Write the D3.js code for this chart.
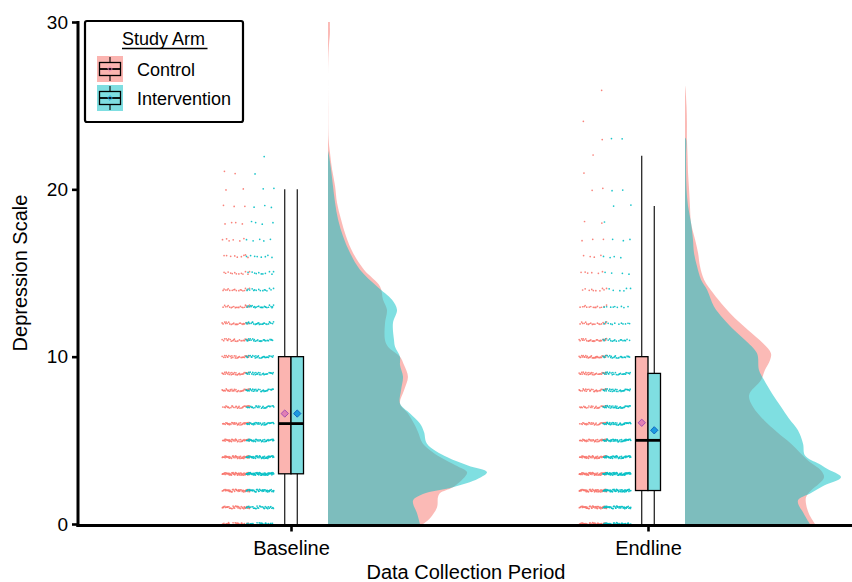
<!DOCTYPE html>
<html>
<head>
<meta charset="utf-8">
<script src="https://cdn.jsdelivr.net/npm/d3@7"></script>
<style>
	body { margin: 0; background: #fff; }
	text { font-family: "Liberation Sans", Arial, sans-serif; fill: #000; }
</style>
</head>
<body>
<script>
var periods = ['Baseline', 'Endline']
var arms = ['Control', 'Intervention']
var yTicks = [0, 10, 20, 30]

// number of respondents at each integer score, index = score
var ptsBaseCtrl = [36, 40, 44, 55, 46, 40, 38, 30, 33, 33, 30, 24, 24, 22, 18, 13, 9, 6, 4, 3, 2, 2]
var ptsBaseInt = [34, 32, 42, 62, 48, 40, 38, 30, 32, 31, 30, 27, 28, 26, 16, 11, 8, 5, 4, 3, 2, 1, 1]
var ptsEndCtrl = [48, 46, 50, 54, 44, 38, 32, 27, 29, 33, 35, 27, 20, 15, 10, 6, 4, 3, 2, 0, 2, 1, 1, 1, 1, 0, 1]
var ptsEndInt = [46, 44, 52, 62, 46, 45, 42, 36, 32, 28, 26, 18, 12, 9, 6, 4, 4, 3, 1, 2, 2, 0, 0, 2]

// density curves (score, density)
var densBaseCtrlY = [0, 0.35, 1, 1.6, 1.85, 2.2, 2.7, 3.1, 3.5, 4, 4.8, 5.5, 6, 6.6, 7.2, 8, 8.8, 9.5, 10, 10.6, 11, 12, 12.8, 13.4, 14.2, 15.2, 16.2, 17.2, 18.2, 19.2, 20.2, 21.2, 22.2, 23, 25, 27.5, 28.7, 29.3, 30]
var densBaseCtrl = [0.0633, 0.068, 0.0727, 0.0733, 0.0747, 0.0833, 0.09, 0.0927, 0.0853, 0.0747, 0.0633, 0.06, 0.0573, 0.0533, 0.048, 0.0507, 0.0533, 0.0507, 0.048, 0.04, 0.038, 0.038, 0.0393, 0.0367, 0.0347, 0.024, 0.0167, 0.012, 0.0087, 0.006, 0.0047, 0.0027, 0.0013, 0.0004, 0.0001, 0.0001, 0.0007, 0.0013, 0.0013]
var densBaseIntY = [0, 0.65, 1.4, 1.8, 2.2, 2.7, 3.1, 3.5, 4, 4.8, 5.5, 6, 6.6, 7.2, 8, 8.8, 9.5, 10, 10.6, 11, 12, 12.8, 13.4, 14.2, 15.2, 16.2, 17.2, 18.2, 19.2, 20.2, 21.2, 22, 22.3]
var densBaseInt = [0.0613, 0.0593, 0.0567, 0.0633, 0.0833, 0.1, 0.106, 0.0933, 0.0793, 0.066, 0.064, 0.0613, 0.0547, 0.048, 0.0487, 0.05, 0.048, 0.048, 0.0447, 0.044, 0.0433, 0.046, 0.0427, 0.0327, 0.0213, 0.0147, 0.01, 0.0067, 0.0047, 0.0033, 0.002, 0.0007, 0]
var densEndCtrlY = [0, 0.6, 1.2, 1.6, 2, 2.4, 2.8, 3.2, 3.8, 4.8, 5.5, 6.2, 7, 7.7, 8.6, 9.2, 9.8, 10.2, 10.8, 11.6, 12.3, 13, 13.8, 14.6, 15.4, 16.2, 17, 18, 19, 20, 21, 22, 23, 24, 25, 26, 26.2]
var densEndCtrl = [0.0867, 0.0827, 0.0807, 0.0807, 0.084, 0.0893, 0.0927, 0.0907, 0.082, 0.0707, 0.0613, 0.0527, 0.0453, 0.0427, 0.0507, 0.0533, 0.0567, 0.0573, 0.052, 0.042, 0.0333, 0.026, 0.0187, 0.0127, 0.01, 0.0087, 0.0067, 0.004, 0.0033, 0.0027, 0.002, 0.0017, 0.0013, 0.0013, 0.001, 0.0003, 0]
var densEndIntY = [0, 0.6, 1.4, 1.85, 2.3, 2.8, 3.3, 3.6, 4.1, 4.8, 5.6, 6.3, 7, 7.8, 8.6, 9.2, 10.2, 11, 11.6, 12.3, 13, 14, 14.6, 15.4, 16.2, 17, 18, 19, 20, 21, 22, 23, 23.1]
var densEndInt = [0.0833, 0.0793, 0.0753, 0.084, 0.0927, 0.104, 0.0947, 0.0893, 0.08, 0.0787, 0.0753, 0.0693, 0.064, 0.058, 0.0527, 0.0493, 0.048, 0.04, 0.0327, 0.0253, 0.0193, 0.0147, 0.0107, 0.008, 0.006, 0.0053, 0.004, 0.002, 0.001, 0.0007, 0.0007, 0.0007, 0]

// box plot stats: [lower whisker, q1, median, q3, upper whisker, mean]
var boxBaseCtrl = [0, 3, 6, 10, 20, 6.6]
var boxBaseInt = [0, 3, 6, 10, 20, 6.6]
var boxEndCtrl = [0, 2, 5, 10, 22, 6.05]
var boxEndInt = [0, 2, 5, 9, 19, 5.6]

var groups = [
	{period: 'Baseline', arm: 'Control', pts: ptsBaseCtrl, dy: densBaseCtrlY, d: densBaseCtrl, box: boxBaseCtrl},
	{period: 'Baseline', arm: 'Intervention', pts: ptsBaseInt, dy: densBaseIntY, d: densBaseInt, box: boxBaseInt},
	{period: 'Endline', arm: 'Control', pts: ptsEndCtrl, dy: densEndCtrlY, d: densEndCtrl, box: boxEndCtrl},
	{period: 'Endline', arm: 'Intervention', pts: ptsEndInt, dy: densEndIntY, d: densEndInt, box: boxEndInt}
]

var width = 852, height = 582

var color = d3.scaleOrdinal().domain(arms).range(['#F8766D', '#00BFC4'])
var boxFill = d3.scaleOrdinal().domain(arms).range(['#FBB4B0', '#7FDEE1'])
var meanFill = d3.scaleOrdinal().domain(arms).range(['#E27FB4', '#1A9BDF'])
var meanStroke = d3.scaleOrdinal().domain(arms).range(['#A44FB0', '#1466C2'])

var x = d3.scalePoint().domain(periods).range([291, 648])
var y = d3.scaleLinear().domain([0, 30]).range([524, 22])
var dens = d3.scaleLinear().domain([0, 0.1]).range([0, 150])

// offsets inside each period
var ptsOffset = d3.scaleOrdinal().domain(arms).range([-55, -31])
var boxOffset = d3.scaleOrdinal().domain(arms).range([-12.5, 0])
var boxW = 12.5
var jitterW = 14
var densOffset = 37

var svg = d3.select('body').append('svg')
	.attr('width', width)
	.attr('height', height)

// half violins
var area = d3.area()
	.curve(d3.curveCatmullRom)
	.y(d => y(d[0]))
	.x0(d => d[2])
	.x1(d => d[2] + dens(d[1]))

svg.append('g').selectAll('path')
	.data(groups)
	.enter()
	.append('path')
		.attr('d', g => area(g.dy.map((v, i) => [v, g.d[i], x(g.period) + densOffset])))
		.attr('fill', g => color(g.arm))
		.attr('fill-opacity', 0.5)

// jittered points, spread with a fixed sequence so the picture is stable
var phi = 0.6180339887
groups.forEach(function (g, gi) {
	var dots = []
	g.pts.forEach(function (n, v) {
		for (var i = 0; i < n; i++) {
			var k = i + 1 + v * 7 + gi * 3
			var fx = (k * phi) % 1
			var fy = (k * k * 0.7548776662) % 1
			dots.push({
				x: x(g.period) + ptsOffset(g.arm) + (fx * 2 - 1) * jitterW,
				y: y(v) + (fy * 2 - 1) * 1.4
			})
		}
	})
	svg.append('g').selectAll('circle')
		.data(dots)
		.enter()
		.append('circle')
			.attr('cx', d => d.x)
			.attr('cy', d => d.y)
			.attr('r', 0.85)
			.attr('fill', color(g.arm))
			.attr('opacity', 0.9)
})

// box plots
var boxes = svg.append('g').selectAll('g')
	.data(groups)
	.enter()
	.append('g')
		.attr('transform', g => 'translate(' + (x(g.period) + boxOffset(g.arm)) + ',0)')

boxes.append('line')
	.attr('x1', boxW / 2).attr('x2', boxW / 2)
	.attr('y1', g => y(g.box[0])).attr('y2', g => y(g.box[1]))
	.attr('stroke', '#000').attr('stroke-width', 1.1)
boxes.append('line')
	.attr('x1', boxW / 2).attr('x2', boxW / 2)
	.attr('y1', g => y(g.box[3])).attr('y2', g => y(g.box[4]))
	.attr('stroke', '#000').attr('stroke-width', 1.1)
boxes.append('rect')
	.attr('x', 0)
	.attr('width', boxW)
	.attr('y', g => y(g.box[3]))
	.attr('height', g => y(g.box[1]) - y(g.box[3]))
	.attr('fill', g => boxFill(g.arm))
	.attr('stroke', '#000')
	.attr('stroke-width', 1.3)
boxes.append('line')
	.attr('x1', 0).attr('x2', boxW)
	.attr('y1', g => y(g.box[2])).attr('y2', g => y(g.box[2]))
	.attr('stroke', '#000').attr('stroke-width', 2.8)
boxes.append('path')
	.attr('d', d3.symbol().type(d3.symbolDiamond2).size(34))
	.attr('transform', g => 'translate(' + boxW / 2 + ',' + y(g.box[5]) + ')')
	.attr('fill', g => meanFill(g.arm))
	.attr('stroke', g => meanStroke(g.arm))
	.attr('stroke-width', 1)

// axes
var yAxis = svg.append('g')
	.attr('transform', 'translate(78,0)')
	.call(d3.axisLeft(y).tickValues(yTicks).tickSize(6).tickPadding(4))
yAxis.select('.domain').remove()
yAxis.append('line')
	.attr('x1', 0).attr('x2', 0)
	.attr('y1', y(30) - 1).attr('y2', y(0) + 3)
	.attr('stroke', '#000').attr('stroke-width', 3)
yAxis.selectAll('.tick line').attr('stroke', '#000').attr('stroke-width', 2.6)
yAxis.selectAll('.tick text')
	.attr('font-size', 19)
	.attr('font-family', '"Liberation Sans", Arial, sans-serif')
	.attr('fill', '#000')

var xAxis = svg.append('g')
	.attr('transform', 'translate(0,' + (y(0) + 1.5) + ')')
	.call(d3.axisBottom(x).tickSize(6).tickPadding(9))
xAxis.select('.domain').remove()
xAxis.append('line')
	.attr('x1', 76.5).attr('x2', width)
	.attr('stroke', '#000').attr('stroke-width', 3)
xAxis.selectAll('.tick line').attr('stroke', '#000').attr('stroke-width', 2.6)
xAxis.selectAll('.tick text')
	.attr('font-size', 20)
	.attr('font-family', '"Liberation Sans", Arial, sans-serif')
	.attr('fill', '#000')

svg.append('text')
	.attr('x', 466)
	.attr('y', 579)
	.attr('text-anchor', 'middle')
	.attr('font-size', 20)
	.text('Data Collection Period')

svg.append('text')
	.attr('transform', 'translate(27,273) rotate(-90)')
	.attr('text-anchor', 'middle')
	.attr('font-size', 20)
	.text('Depression Scale')

// LEGEND
var legend = svg.append('g')
legend.append('rect')
	.attr('x', 85).attr('y', 21)
	.attr('width', 158).attr('height', 101)
	.attr('rx', 2)
	.attr('fill', '#fff')
	.attr('stroke', '#000')
	.attr('stroke-width', 2.2)
legend.append('text')
	.attr('x', 122).attr('y', 45)
	.attr('font-size', 18)
	.text('Study Arm')
legend.append('line')
	.attr('x1', 122).attr('x2', 207.5)
	.attr('y1', 48.5).attr('y2', 48.5)
	.attr('stroke', '#000').attr('stroke-width', 1.3)

var keys = legend.selectAll('g.key')
	.data(arms)
	.enter()
	.append('g')
		.attr('class', 'key')
		.attr('transform', (d, i) => 'translate(97,' + (56 + i * 29) + ')')

keys.append('rect')
	.attr('width', 26).attr('height', 26)
	.attr('fill', d => boxFill(d))
keys.append('line')
	.attr('x1', 13).attr('x2', 13).attr('y1', 1).attr('y2', 25)
	.attr('stroke', '#000').attr('stroke-width', 1.1)
keys.append('rect')
	.attr('x', 2.5).attr('y', 6.5)
	.attr('width', 21).attr('height', 13)
	.attr('fill', d => boxFill(d))
	.attr('stroke', '#000').attr('stroke-width', 1.3)
keys.append('line')
	.attr('x1', 2.5).attr('x2', 23.5).attr('y1', 13).attr('y2', 13)
	.attr('stroke', '#000').attr('stroke-width', 1.8)
keys.append('path')
	.attr('d', d3.symbol().type(d3.symbolDiamond2).size(14))
	.attr('transform', 'translate(13,13)')
	.attr('fill', 'none')
	.attr('stroke', d => meanFill(d))
	.attr('stroke-width', 0.9)
keys.append('text')
	.attr('x', 40).attr('y', 20)
	.attr('font-size', 18)
	.text(d => d)
</script>
</body>
</html>
